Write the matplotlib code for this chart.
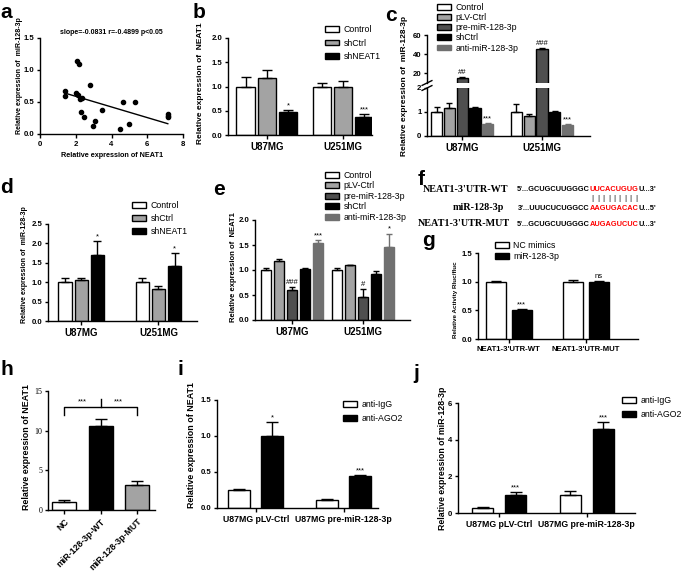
import numpy as np
import matplotlib
matplotlib.use("Agg")
import matplotlib.pyplot as plt
from matplotlib.patches import Patch

SANS = 'Liberation Sans'
SERIF = 'Liberation Serif'

plt.rcParams['font.family'] = [SANS, 'DejaVu Sans']
plt.rcParams['font.weight'] = 'bold'
plt.rcParams['axes.linewidth'] = 1.0
plt.rcParams['xtick.major.width'] = 1.0
plt.rcParams['ytick.major.width'] = 1.0
plt.rcParams['xtick.major.size'] = 3
plt.rcParams['ytick.major.size'] = 2.5
plt.rcParams['xtick.major.pad'] = 2
plt.rcParams['ytick.major.pad'] = 1.5
plt.rcParams['xtick.labelsize'] = 7
plt.rcParams['ytick.labelsize'] = 5.6

# ---- data ----
# a: correlation
neat1_expr = [1.4, 1.4, 2.0, 2.05, 2.2, 2.1, 2.25, 2.35, 2.3, 2.45, 2.8, 2.95, 3.1, 3.45,
              4.5, 4.65, 5.0, 5.3, 7.15, 7.15, 7.15]
mir_expr = [0.67, 0.60, 0.64, 1.14, 1.09, 0.61, 0.55, 0.56, 0.35, 0.27, 0.76, 0.12, 0.20, 0.38,
            0.08, 0.50, 0.15, 0.50, 0.31, 0.28, 0.26]
fit_slope = -0.0831
fit_intercept = 0.755

cells = ['U87MG', 'U251MG']

# b, d: knockdown
kd_series = ['Control', 'shCtrl', 'shNEAT1']
b_mean = [[1.0, 0.99], [1.18, 1.0], [0.47, 0.38]]
b_err = [[0.19, 0.08], [0.17, 0.12], [0.04, 0.05]]
b_marks = [['', ''], ['', ''], ['*', '***']]

d_mean = [[1.0, 1.0], [1.05, 0.82], [1.7, 1.42]]
d_err = [[0.12, 0.12], [0.07, 0.08], [0.37, 0.33]]
d_marks = [['', ''], ['', ''], ['*', '*']]

# c, e: five groups
five_series = ['Control', 'pLV-Ctrl', 'pre-miR-128-3p', 'shCtrl', 'anti-miR-128-3p']
c_mean = [[1.0, 1.02], [1.15, 0.85], [15.5, 45.0], [1.15, 1.0], [0.5, 0.45]]
c_err = [[0.22, 0.3], [0.22, 0.08], [1.0, 1.5], [0.07, 0.05], [0.03, 0.03]]
c_marks = [['', ''], ['', ''], ['##', '###'], ['', ''], ['***', '***']]

e_mean = [[1.0, 1.0], [1.18, 1.1], [0.6, 0.46], [1.02, 0.93], [1.54, 1.47]]
e_err = [[0.04, 0.04], [0.04, 0.01], [0.07, 0.16], [0.03, 0.05], [0.06, 0.26]]
e_marks = [['', ''], ['', ''], ['###', '#'], ['', ''], ['***', '*']]

# f: sequences (text, red?)
wt_seq = [("5'...GCUGCUUGGGC", False), ("UUCACUGUG", True), ("U...3'", False)]
mir_seq = [("3'...UUUCUCUGGCC", False), ("AAGUGACAC", True), ("U...5'", False)]
mut_seq = [("5'...GCUGCUUGGGC", False), ("AUGAGUCUC", True), ("U...3'", False)]

# g: luciferase
g_groups = ["NEAT1-3'UTR-WT", "NEAT1-3'UTR-MUT"]
g_series = ['NC mimics', 'miR-128-3p']
g_mean = [[1.0, 1.0], [0.51, 0.99]]
g_err = [[0.02, 0.03], [0.02, 0.03]]
g_marks = [['', ''], ['***', 'ns']]

# h
h_groups = ['NC', 'miR-128-3p-WT', 'miR-128-3p-MUT']
h_mean = [1.0, 10.6, 3.1]
h_err = [0.3, 0.9, 0.55]

# i, j: RIP
rip_groups = ['U87MG pLV-Ctrl', 'U87MG pre-miR-128-3p']
rip_series = ['anti-IgG', 'anti-AGO2']
i_mean = [[0.25, 0.11], [1.0, 0.44]]
i_err = [[0.02, 0.01], [0.2, 0.02]]
i_marks = [['', ''], ['*', '***']]
j_mean = [[0.27, 1.0], [1.0, 4.6]]
j_err = [[0.05, 0.2], [0.12, 0.35]]
j_marks = [['', ''], ['***', '***']]

WHITE, LGRAY, DGRAY, BLACK, MGRAY = 'white', '#a3a3a3', '#4f4f4f', 'black', '#707070'
kd_colors = [WHITE, LGRAY, BLACK]
kd_edges = [BLACK, BLACK, BLACK]
five_colors = [WHITE, LGRAY, DGRAY, BLACK, MGRAY]
five_edges = [BLACK, BLACK, BLACK, BLACK, MGRAY]
two_colors = [WHITE, BLACK]
two_edges = [BLACK, BLACK]

W, H = 684, 573
fig = plt.figure(figsize=(6.84, 5.73), dpi=100)


def px_axes(x0, y0, x1, y1):
    return fig.add_axes([x0 / W, 1 - y1 / H, (x1 - x0) / W, (y1 - y0) / H])


def clean(ax, ylim, yticks, ylabels):
    ax.spines['top'].set_visible(False)
    ax.spines['right'].set_visible(False)
    ax.set_ylim(*ylim)
    ax.set_yticks(yticks)
    ax.set_yticklabels(ylabels)


def bars(ax, means, errs, marks, colors, edges, width, step, cap, msize=5.5):
    n = len(means)
    base = np.arange(len(means[0]))
    lo, hi = ax.get_ylim()
    for k in range(n):
        xs = base + (k - (n - 1) / 2) * step
        ax.bar(xs, means[k], width, color=colors[k], edgecolor=edges[k], linewidth=1.0, zorder=2)
        ax.errorbar(xs, means[k], yerr=[np.zeros(len(xs)), errs[k]], fmt='none', ecolor=edges[k],
                    elinewidth=1.0, capsize=cap, capthick=1.0, zorder=3)
        for x, m, e, s in zip(xs, means[k], errs[k], marks[k]):
            if s and lo < m + e <= hi:
                ax.annotate(s, (x, m + e), xytext=(0, 0.5), textcoords='offset points',
                            ha='center', va='bottom', fontsize=msize, fontweight='normal')
    ax.set_xticks(base)


def key(ax, labels, colors, edges, x, y, size=6.3, spacing=0.3):
    handles = [Patch(facecolor=c, edgecolor=e, linewidth=1.0) for c, e in zip(colors, edges)]
    ax.legend(handles, labels, loc='upper left', bbox_to_anchor=(x / W, 1 - y / H),
              bbox_transform=fig.transFigure, frameon=False,
              prop={'size': size, 'weight': 'normal', 'family': SANS},
              handlelength=1.6, handleheight=0.65, handletextpad=0.5, labelspacing=spacing,
              borderpad=0, borderaxespad=0)


def vlabel(text, x, y, size):
    fig.text(x / W, 1 - y / H, text, rotation=90, ha='center', va='center',
             fontsize=size, fontweight='bold')


def letter(ch, x, y):
    fig.text(x / W, 1 - y / H, ch, fontsize=15, fontweight='bold', ha='left', va='baseline')


# ---- a ----
ax = px_axes(40, 38, 183, 134)
ax.scatter(neat1_expr, mir_expr, s=9, color='black', zorder=3)
xs = np.array([min(neat1_expr), max(neat1_expr)])
ax.plot(xs, fit_intercept + fit_slope * xs, color='black', lw=1)
ax.set_xlim(0, 8)
ax.set_xticks([0, 2, 4, 6, 8])
ax.tick_params(axis='x', labelsize=5.6)
clean(ax, (0, 1.5), [0, 0.5, 1.0, 1.5], ['0.0', '0.5', '1.0', '1.5'])
fig.text(111 / W, 1 - 33 / H, 'slope=-0.0831 r=-0.4899 p<0.05', ha='center', va='center', fontsize=5)
fig.text(112 / W, 1 - 155 / H, 'Relative expression of NEAT1', ha='center', va='center', fontsize=5.2)
vlabel('Relative expression of  miR-128-3p', 20, 76, 5)

# ---- b ----
ax = px_axes(228, 38, 372, 135)
clean(ax, (0, 2.0), [0, 0.5, 1.0, 1.5, 2.0], ['0.0', '0.5', '1.0', '1.5', '2.0'])
bars(ax, b_mean, b_err, b_marks, kd_colors, kd_edges, 0.24, 0.28, 3.5)
ax.set_xlim(-0.51, 1.38)
ax.set_xticklabels(cells)
key(ax, kd_series, kd_colors, kd_edges, 325, 25, 6.3, 0.52)
vlabel('Relative expression of  NEAT1', 200, 83, 6)

# ---- c (broken axis) ----
c_bot = px_axes(427, 88, 590, 136)
c_top = px_axes(427, 35, 590, 83)
clean(c_bot, (0, 2), [0, 1, 2], ['0', '1', '2'])
clean(c_top, (10, 60), [20, 40, 60], ['20', '40', '60'])
bars(c_bot, c_mean, c_err, c_marks, five_colors, five_edges, 0.14, 0.16, 2.5)
bars(c_top, c_mean, c_err, c_marks, five_colors, five_edges, 0.14, 0.16, 2.5)
for a_ in (c_bot, c_top):
    a_.set_xlim(-0.44, 1.6)
c_bot.set_xticklabels(cells)
c_top.spines['bottom'].set_visible(False)
c_top.set_xticks([])
for a_, yy in ((c_top, 0.0), (c_bot, 1.0)):
    a_.plot([-0.03, 0.03], [yy - 0.05, yy + 0.05], transform=a_.transAxes, color='k', lw=1, clip_on=False)
key(c_top, five_series, five_colors, five_edges, 437, 3, 6.3, 0.13)
vlabel('Relative expression of  miR-128-3p', 405, 86, 6)

# ---- d ----
ax = px_axes(48, 224, 197, 321)
clean(ax, (0, 2.5), [0, 0.5, 1.0, 1.5, 2.0, 2.5], ['0.0', '0.5', '1.0', '1.5', '2.0', '2.5'])
bars(ax, d_mean, d_err, d_marks, kd_colors, kd_edges, 0.17, 0.21, 3)
ax.set_xlim(-0.43, 1.5)
ax.set_xticklabels(cells)
key(ax, kd_series, kd_colors, kd_edges, 132, 201, 6.3, 0.46)
vlabel('Relative expression of  miR-128-3p', 25, 265, 5)

# ---- e ----
ax = px_axes(255, 220, 410, 320)
clean(ax, (0, 2.0), [0, 0.5, 1.0, 1.5, 2.0], ['0.0', '0.5', '1.0', '1.5', '2.0'])
bars(ax, e_mean, e_err, e_marks, five_colors, five_edges, 0.13, 0.183, 2.5)
ax.set_xlim(-0.52, 1.66)
ax.set_xticklabels(cells)
key(ax, five_series, five_colors, five_edges, 325, 171, 6.3, 0.17)
vlabel('Relative expression of  NEAT1', 233, 267, 5.5)

# ---- f ----
renderer = fig.canvas.get_renderer()


def seq_line(x, y, parts):
    red_span = None
    for txt, red in parts:
        t = fig.text(x / W, 1 - y / H, txt, color='red' if red else 'black', fontsize=5.3,
                     ha='left', va='center')
        bb = t.get_window_extent(renderer)
        if red:
            red_span = (bb.x0, bb.x1)
        x = bb.x1
    return red_span


fig.text(508 / W, 1 - 190 / H, "NEAT1-3'UTR-WT", family=SERIF, fontsize=7.3, fontweight='bold',
         ha='right', va='center')
fig.text(478 / W, 1 - 208 / H, "miR-128-3p", family=SERIF, fontsize=7.3, fontweight='bold',
         ha='center', va='center')
fig.text(510 / W, 1 - 224 / H, "NEAT1-3'UTR-MUT", family=SERIF, fontsize=7.3, fontweight='bold',
         ha='right', va='center')
r0, r1 = seq_line(517, 190, wt_seq)
seq_line(518, 208, mir_seq)
seq_line(517, 224, mut_seq)
n_pair = len(wt_seq[1][0])
for k in range(n_pair):
    fig.text((r0 + (k + 0.5) * (r1 - r0) / n_pair) / W, 1 - 199 / H, '|', fontsize=6,
             fontweight='normal', ha='center', va='center')

# ---- g ----
ax = px_axes(478, 253, 638, 339)
clean(ax, (0, 1.5), [0, 0.5, 1.0, 1.5], ['0.0', '0.5', '1.0', '1.5'])
bars(ax, g_mean, g_err, g_marks, two_colors, two_edges, 0.26, 0.34, 3.5)
ax.set_xlim(-0.4, 1.68)
ax.set_xticklabels(g_groups, fontsize=5.6)
key(ax, g_series, two_colors, two_edges, 495, 241, 6.3, 0.25)
vlabel('Relative Activity Rluc/fluc', 455, 300, 4.5)

# ---- h ----
ax = px_axes(48, 391, 155, 510)
clean(ax, (0, 15), [0, 5, 10, 15], ['0', '5', '10', '15'])
xh = np.arange(len(h_groups))
ax.bar(xh, h_mean, 0.66, color=[WHITE, BLACK, LGRAY], edgecolor='black', linewidth=1.0, zorder=2)
ax.errorbar(xh, h_mean, yerr=[np.zeros(len(xh)), h_err], fmt='none', ecolor='black',
            elinewidth=1.0, capsize=4, capthick=1.0, zorder=3)
ax.set_xlim(-0.45, 2.5)
ax.set_xticks(xh)
ax.set_xticklabels(h_groups, rotation=45, ha='right', va='top', rotation_mode='anchor', fontsize=6.3)
for lab in ax.get_yticklabels():
    lab.set_family(SERIF)
    lab.set_fontweight('normal')
    lab.set_fontsize(5.8)
ax.plot([0, 0, 2, 2], [12.0, 13.0, 13.0, 12.0], color='black', lw=1, clip_on=False)
ax.plot([1, 1], [13.0, 14.0], color='black', lw=1, clip_on=False)
ax.text(0.5, 13.2, '***', ha='center', va='bottom', fontsize=5.5, fontweight='normal')
ax.text(1.5, 13.2, '***', ha='center', va='bottom', fontsize=5.5, fontweight='normal')
vlabel('Relative expression of NEAT1', 27, 447, 6.4)

# ---- i ----
ax = px_axes(217, 400, 378, 508)
clean(ax, (0, 1.5), [0, 0.5, 1.0, 1.5], ['0.0', '0.5', '1.0', '1.5'])
bars(ax, i_mean, i_err, i_marks, two_colors, two_edges, 0.25, 0.375, 4)
ax.set_xlim(-0.44, 1.39)
ax.set_xticklabels(rip_groups, fontsize=6.3)
key(ax, rip_series, two_colors, two_edges, 343, 400, 6.3, 0.56)
vlabel('Relative expression of NEAT1', 192, 445, 6.4)

# ---- j ----
ax = px_axes(458, 403, 635, 513)
clean(ax, (0, 6), [0, 2, 4, 6], ['0', '2', '4', '6'])
bars(ax, j_mean, j_err, j_marks, two_colors, two_edges, 0.24, 0.375, 4)
ax.set_xlim(-0.47, 1.55)
ax.set_xticklabels(rip_groups, fontsize=6.3)
key(ax, rip_series, two_colors, two_edges, 622, 396, 6.3, 0.6)
vlabel('Relative expression of miR-128-3p', 442, 458, 6.3)

# panel letters
for ch, x, y in [('a', 0, 18), ('b', 193, 18), ('c', 385, 21), ('d', 0, 193), ('e', 213, 195),
                 ('f', 418, 185), ('g', 422, 246), ('h', 0, 375), ('i', 177, 375), ('j', 413, 379)]:
    letter(ch, x, y)

fig.savefig('out.png', dpi=100)
